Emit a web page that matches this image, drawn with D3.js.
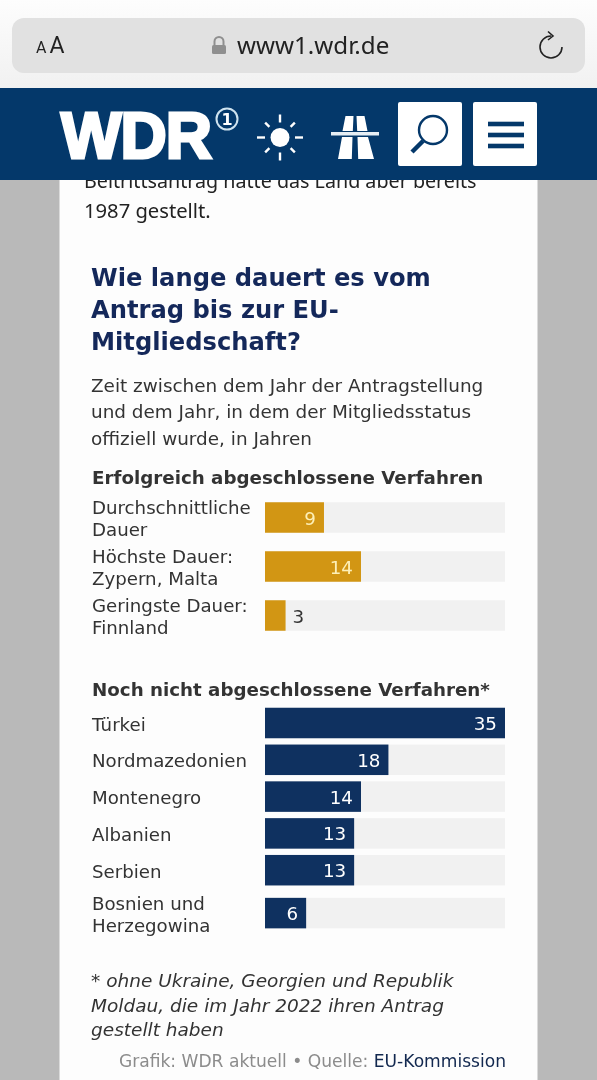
<!DOCTYPE html>
<html><head><meta charset="utf-8">
<script src="https://cdn.jsdelivr.net/npm/d3@7/dist/d3.min.js"></script>
<style>html,body{margin:0;padding:0;background:#fff;overflow:hidden}svg{display:block;filter:blur(0.35px)}text{font-family:"DejaVu Sans",sans-serif}</style>
</head><body><div id="c"></div>
<script>
const titleLines = ["Wie lange dauert es vom","Antrag bis zur EU-","Mitgliedschaft?"];
const subLines = ["Zeit zwischen dem Jahr der Antragstellung","und dem Jahr, in dem der Mitgliedsstatus","offiziell wurde, in Jahren"];
const group1Title = "Erfolgreich abgeschlossene Verfahren";
const group1Labels = [["Durchschnittliche","Dauer"],["Höchste Dauer:","Zypern, Malta"],["Geringste Dauer:","Finnland"]];
const group1Values = [8.6,14,3];
const group2Title = "Noch nicht abgeschlossene Verfahren*";
const group2Labels = [["Türkei"],["Nordmazedonien"],["Montenegro"],["Albanien"],["Serbien"],["Bosnien und","Herzegowina"]];
const group2Values = [35,18,14,13,13,6];
const noteLines = ["* ohne Ukraine, Georgien und Republik","Moldau, die im Jahr 2022 ihren Antrag","gestellt haben"];

const W=597,H=1080,navy="#04386a",gold="#d29614",dark="#0f3160",ink="#333";
const svg=d3.select("#c").append("svg").attr("width",W).attr("height",H);
const defs=svg.append("defs");
const g=defs.append("linearGradient").attr("id","top").attr("x1",0).attr("x2",0).attr("y1",0).attr("y2",1);
g.append("stop").attr("offset",0).attr("stop-color","#fdfdfd");g.append("stop").attr("offset",1).attr("stop-color","#f1f1f1");

// page
svg.append("rect").attr("width",W).attr("height",H).attr("fill","#b9b9b9");
svg.append("rect").attr("x",59.5).attr("y",170).attr("width",478).attr("height",H-170).attr("fill","#fdfdfd");
const bodyFont='"Noto Sans",sans-serif';
svg.append("text").attr("x",84).attr("y",188).attr("font-size",19.7).style("font-family",bodyFont).attr("fill","#222").text("Beitrittsantrag hatte das Land aber bereits");
svg.append("text").attr("x",84).attr("y",218).attr("font-size",20.2).style("font-family",bodyFont).attr("fill","#222").text("1987 gestellt.");

// browser chrome and site header
svg.append("rect").attr("width",W).attr("height",88).attr("fill","url(#top)");
svg.append("rect").attr("x",12).attr("y",18).attr("width",573).attr("height",55).attr("rx",12).attr("fill","#e1e1e1");
svg.append("text").attr("x",36).attr("y",53).attr("font-size",16).style("font-family","Roboto").attr("fill","#222").text("A");
svg.append("text").attr("x",49.5).attr("y",53).attr("font-size",23).style("font-family","Roboto").attr("fill","#222").text("A");
svg.append("rect").attr("x",212).attr("y",45).attr("width",14).attr("height",9).attr("rx",1.5).attr("fill","#8f8f8f");
svg.append("path").attr("d","M214.5 45v-3.5a4.5 4.5 0 0 1 9 0V45").attr("fill","none").attr("stroke","#8f8f8f").attr("stroke-width",2);
svg.append("text").attr("x",237).attr("y",54).attr("font-size",24.2).style("font-family",bodyFont).attr("fill","#222").text("www1.wdr.de");
svg.append("path").attr("d","M551 36a11 11 0 1 0 11 11").attr("fill","none").attr("stroke","#222").attr("stroke-width",1.6);
svg.append("path").attr("d","M548 31.500l5 4.500-5 4").attr("fill","none").attr("stroke","#222").attr("stroke-width",1.6);

svg.append("rect").attr("y",88).attr("width",W).attr("height",92).attr("fill",navy);
svg.append("text").attr("x",61).attr("y",157.500).attr("font-size",64).attr("font-weight",700).attr("letter-spacing",-1).style("font-family","Liberation Sans").attr("fill","#fff").attr("stroke","#fff").attr("stroke-width",3).text("WDR");
svg.append("circle").attr("cx",227).attr("cy",119).attr("r",10.5).attr("fill","none").attr("stroke","#cfe3ef").attr("stroke-width",2);
svg.append("text").attr("x",227).attr("y",125).attr("text-anchor","middle").attr("font-size",16).attr("font-weight",700).attr("fill","#fff").text("1");
// sun
const sun=svg.append("g").attr("transform","translate(280,137.500)");
sun.append("circle").attr("r",9.500).attr("fill","#fff");
d3.range(8).forEach(i=>sun.append("line").attr("x1",0).attr("x2",0).attr("y1",-15).attr("y2",i%2?-21:-23).attr("stroke","#fff").attr("stroke-width",2.4).attr("transform",`rotate(${i*45})`));
// motorway
svg.append("path").attr("d","M345.500 116h8l-.7 15h-10.300zM356.500 116h8l3 15h-10.300zM342 137h10.500l-.7 22h-13.800zM357.500 137h10.500l6 22h-15.800z").attr("fill","#fff");
svg.append("rect").attr("x",331).attr("y",132).attr("width",48).attr("height",3.500).attr("fill","#e6eef4");
// buttons
svg.append("rect").attr("x",398).attr("y",102).attr("width",64).attr("height",64).attr("rx",2).attr("fill","#fff");
svg.append("rect").attr("x",473).attr("y",102).attr("width",64).attr("height",64).attr("rx",2).attr("fill","#fff");
svg.append("circle").attr("cx",433).attr("cy",130).attr("r",14).attr("fill","none").attr("stroke",navy).attr("stroke-width",2.4);
svg.append("line").attr("x1",423).attr("y1",141).attr("x2",412).attr("y2",152).attr("stroke",navy).attr("stroke-width",4.5);
[124,135,146].forEach(y=>svg.append("rect").attr("x",488).attr("y",y-2.300).attr("width",36).attr("height",4.600).attr("fill",navy));

// headings
svg.selectAll(null).data(titleLines).join("text").attr("x",91).attr("y",(d,i)=>286+i*32).attr("font-size",24.200).attr("font-weight",700).attr("fill","#14285a").text(d=>d);
svg.selectAll(null).data(subLines).join("text").attr("x",91).attr("y",(d,i)=>392+i*26.300).attr("font-size",18.400).attr("fill",ink).text(d=>d);

// bars
const x=d3.scaleLinear().domain([0,35]).range([265,505]);
const barH=30.500, fmt=d3.format(".0f");
function rowCentres(labels,start){
  const hs=labels.map(l=>l.length>1?49:36.800);
  let c=start;return labels.map((l,i)=>{if(i)c+=(hs[i-1]+hs[i])/2;return c;});
}
function group(title,titleY,labels,values,color,start){
  svg.append("text").attr("x",92).attr("y",titleY).attr("font-size",18.250).attr("font-weight",700).attr("fill",ink).text(title);
  const cs=rowCentres(labels,start);
  const data=labels.map((l,i)=>({l,v:values[i],c:cs[i]}));
  const r=svg.selectAll(null).data(data).join("g");
  r.append("rect").attr("x",x(0)).attr("y",d=>d.c-barH/2).attr("width",x(35)-x(0)).attr("height",barH).attr("fill","#f1f1f1");
  r.append("rect").attr("x",x(0)).attr("y",d=>d.c-barH/2).attr("width",d=>x(d.v)-x(0)).attr("height",barH).attr("fill",color);
  r.append("text").attr("x",d=>d.v>3?x(d.v)-8:x(d.v)+7).attr("y",d=>d.c+7).attr("text-anchor",d=>d.v>3?"end":"start").attr("font-size",18.300).attr("fill",d=>d.v>3?(color===gold?"#fdf0b8":"#fff"):ink).text(d=>fmt(d.v));
  r.each(function(d){
    d3.select(this).selectAll("text.l").data(d.l).join("text").attr("class","l").attr("x",92).attr("y",(t,i)=>d.c+7.500-(d.l.length-1)*11+i*22).attr("font-size",18.200).attr("fill",ink).text(t=>t);
  });
}
group(group1Title,484,group1Labels,group1Values,gold,517.500);
group(group2Title,696,group2Labels,group2Values,dark,723);

// notes
svg.selectAll(null).data(noteLines).join("text").attr("x",91).attr("y",(d,i)=>987+i*24.500).attr("font-size",18.500).attr("font-style","italic").attr("fill",ink).text(d=>d);
const src=svg.append("text").attr("x",506).attr("y",1067).attr("text-anchor","end").attr("font-size",17.100).attr("fill","#8c8c8c");
src.append("tspan").text("Grafik: WDR aktuell • Quelle: ");
src.append("tspan").attr("fill","#12284f").text("EU-Kommission");
</script></body></html>
